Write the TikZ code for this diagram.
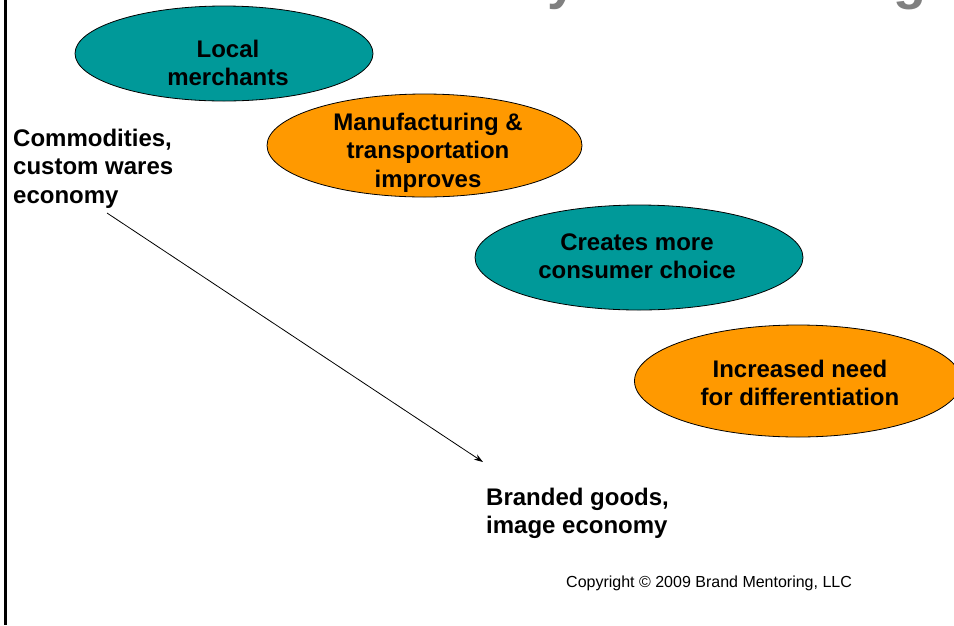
\documentclass[tikz,border=0pt]{standalone}
\usepackage{fontspec}
\setmainfont{Liberation Sans}
\usetikzlibrary{shapes.geometric,arrows.meta}

\definecolor{tealfill}{RGB}{0,153,153}
\definecolor{orangefill}{RGB}{255,153,0}
\definecolor{titlegray}{RGB}{128,128,128}

% fixed-height strut so the first baseline sits a known distance below the node top
\newcommand{\capstrut}{\rule{0pt}{18pt}}

\begin{document}
\begin{tikzpicture}[x=1pt,y=-1pt,
  bubble/.style={ellipse, draw=black, line width=0.8pt, inner sep=0pt},
  tealbubble/.style={bubble, fill=tealfill},
  orangebubble/.style={bubble, fill=orangefill},
  bigbold/.style={inner sep=0pt, font=\fontsize{24}{28.5}\selectfont\bfseries},
  bubbletext/.style={bigbold, anchor=north, align=center},
  sidetext/.style={bigbold, anchor=north west, align=left},
  notetext/.style={inner sep=0pt, anchor=base west, font=\fontsize{16}{19}\selectfont},
  titleglyph/.style={inner sep=0pt, anchor=base west, text=titlegray,
    font=\fontsize{54}{54}\selectfont\bfseries},
  flow/.style={line width=0.8pt, -{Stealth[length=9pt,width=6pt]}}
]
\fill[white] (0,0) rectangle (954,625);
\useasboundingbox (0,0) rectangle (954,625);

% heading, only its descenders fall inside the page
\begin{scope}
  \clip (0,0) rectangle (954,625);
  \node[titleglyph] (ty) at (547,-1.5) {y};
  \node[titleglyph] (tg) at (893,-1.5) {g};
  \node[tealbubble, minimum width=298pt, minimum height=95pt] (local) at (224,53.5) {};
  \node[orangebubble, minimum width=315pt, minimum height=103pt] (manuf) at (424.5,145.5) {};
  \node[tealbubble, minimum width=328pt, minimum height=105pt] (choice) at (639,257.5) {};
  \node[orangebubble, minimum width=327pt, minimum height=112pt] (need) at (798,381) {};
\end{scope}

% left edge rule
\draw[line width=3pt] (5.5,0) -- (5.5,625);

% bubble labels
\node[bubbletext] (localtxt) at (228,39) {\capstrut Local\\merchants};
\node[bubbletext] (manuftxt) at (428,112) {\capstrut Manufacturing \&\\transportation\\improves};
\node[bubbletext] (choicetxt) at (637,232) {\capstrut Creates more\\consumer choice};
\node[bubbletext] (needtxt) at (800,359) {\capstrut Increased need\\for differentiation};

% start and end states
\node[sidetext] (commod) at (13,128) {\capstrut Commodities,\\custom wares\\economy};
\node[sidetext] (brand) at (486,487) {\capstrut Branded goods,\\image economy};

\coordinate (from) at (107,213);
\coordinate (to) at (483,462);
\draw[flow] (from) -- (to);

\node[notetext] (copy) at (566,587) {Copyright © 2009 Brand Mentoring, LLC};
\end{tikzpicture}
\end{document}
